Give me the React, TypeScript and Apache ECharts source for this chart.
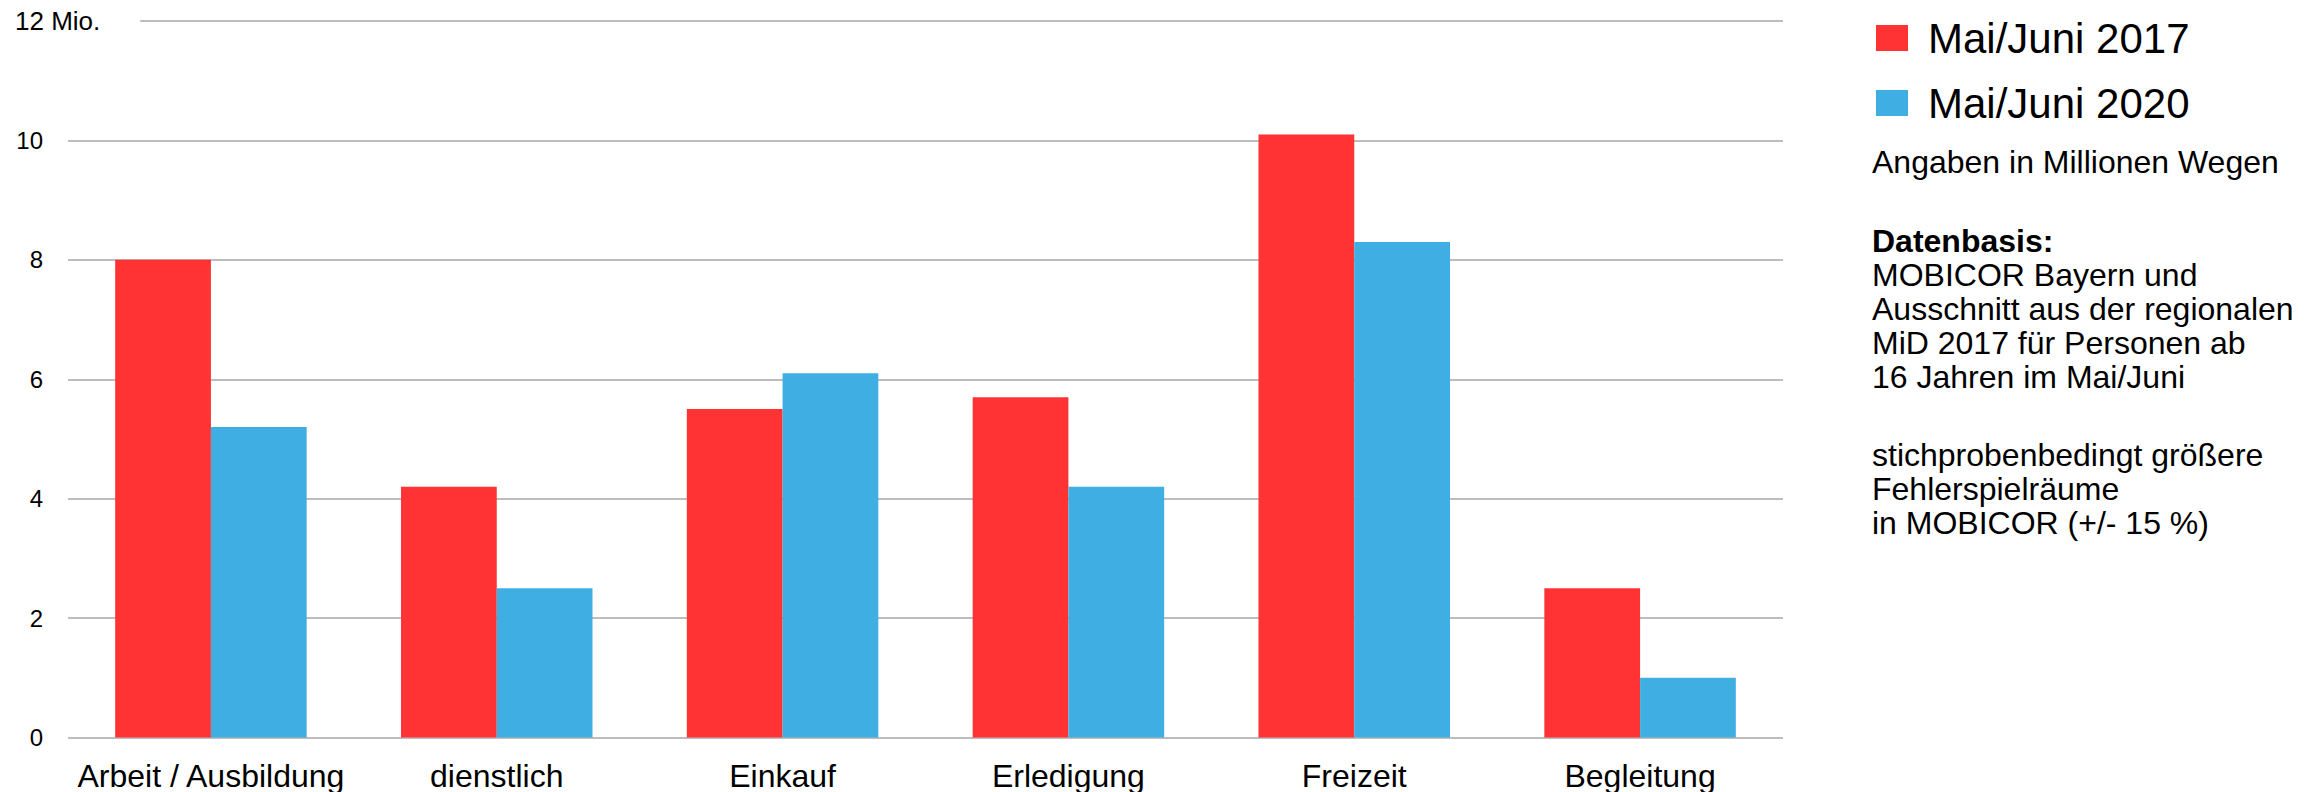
import React, { useEffect, useRef } from "react";
import * as echarts from "echarts";

const categories = ["Arbeit / Ausbildung", "dienstlich", "Einkauf", "Erledigung", "Freizeit", "Begleitung"];
const seriesNames = ["Mai/Juni 2017", "Mai/Juni 2020"];
const values2017 = [8.0, 4.2, 5.5, 5.7, 10.1, 2.5];
const values2020 = [5.2, 2.5, 6.1, 4.2, 8.3, 1.0];
const yTicks = [0, 2, 4, 6, 8, 10, 12];
const topTickLabel = "12 Mio.";
const noteUnit = "Angaben in Millionen Wegen";
const noteBasisTitle = "Datenbasis:";
const noteBasisLines = [
  "MOBICOR Bayern und",
  "Ausschnitt aus der regionalen",
  "MiD 2017 für Personen ab",
  "16 Jahren im Mai/Juni",
];
const noteErrorLines = ["stichprobenbedingt größere", "Fehlerspielräume", "in MOBICOR (+/- 15 %)"];

const RED = "#FF3334";
const BLUE = "#3FAEE3";
const GRID = "#bdbdbd";
const FONT = "'Liberation Sans', Arial, Helvetica, sans-serif";

export default function App() {
  const ref = useRef<HTMLDivElement>(null);
  useEffect(() => {
    if (!ref.current) return;
    const chart = echarts.init(ref.current, null, { renderer: "svg" });
    const yMax = yTicks[yTicks.length - 1];
    chart.setOption({
      animation: false,
      backgroundColor: "#ffffff",
      textStyle: { fontFamily: FONT },
      grid: { left: 68, right: 527, top: 21, bottom: 54.5, containLabel: false },
      legend: {
        orient: "vertical",
        left: 1871,
        top: 11,
        itemWidth: 32,
        itemHeight: 26,
        itemGap: 21,
        icon: "rect",
        data: seriesNames,
        textStyle: { fontSize: 42, lineHeight: 44, color: "#000", fontFamily: FONT, padding: [0, 0, 0, 15] },
      },
      xAxis: {
        type: "category",
        data: categories,
        axisLine: { show: false },
        axisTick: { show: false },
        axisLabel: { interval: 0, fontSize: 32, color: "#000", margin: 22, fontFamily: FONT },
      },
      yAxis: {
        type: "value",
        min: 0,
        max: yMax,
        interval: 2,
        axisLine: { show: false },
        axisTick: { show: false },
        splitLine: { lineStyle: { color: GRID, width: 2 } },
        axisLabel: {
          fontSize: 24,
          color: "#000",
          margin: 25,
          fontFamily: FONT,
          formatter: (v: number) => (v === yMax ? "" : String(v)),
        },
      },
      series: [
        {
          name: seriesNames[0],
          type: "bar",
          data: values2017,
          itemStyle: { color: RED },
          barGap: "0%",
          barCategoryGap: "33%",
        },
        {
          name: seriesNames[1],
          type: "bar",
          data: values2020,
          itemStyle: { color: BLUE },
          barGap: "0%",
          barCategoryGap: "33%",
        },
      ],
      graphic: [
        {
          type: "text",
          left: 15,
          top: 6,
          z: 100,
          style: {
            text: topTickLabel,
            fontSize: 26,
            fontFamily: FONT,
            fill: "#000",
            backgroundColor: "#fff",
            padding: [2, 40, 2, 0],
          },
        },
        {
          type: "text",
          x: 1872,
          y: 162,
          style: { text: noteUnit, fontSize: 32, fontFamily: FONT, fill: "#000", verticalAlign: "middle" },
        },
        {
          type: "text",
          x: 1872,
          y: 223.5,
          style: {
            text: "{b|" + noteBasisTitle + "}\n" + noteBasisLines.join("\n"),
            fontSize: 32,
            lineHeight: 34,
            fontFamily: FONT,
            fill: "#000",
            verticalAlign: "top",
            rich: { b: { fontWeight: "bold", fontSize: 32, lineHeight: 34, fontFamily: FONT, fill: "#000" } },
          },
        },
        {
          type: "text",
          x: 1872,
          y: 437.5,
          style: {
            text: noteErrorLines.join("\n"),
            fontSize: 32,
            lineHeight: 34,
            fontFamily: FONT,
            fill: "#000",
            verticalAlign: "top",
          },
        },
      ],
    });
    return () => chart.dispose();
  }, []);
  return <div ref={ref} style={{ position: "fixed", left: 0, top: 0, width: 2310, height: 792 }} />;
}
